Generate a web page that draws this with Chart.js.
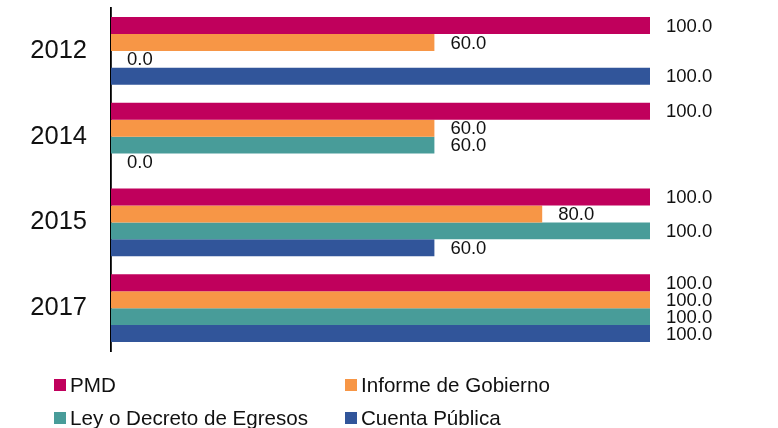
<!DOCTYPE html>
<html>
<head>
<meta charset="utf-8">
<script src="https://cdn.jsdelivr.net/npm/chart.js@4/dist/chart.umd.min.js"></script>
<style>
  html, body { margin: 0; padding: 0; background: #fff; }
  #wrap { position: relative; width: 778px; height: 428px; }
  #legend {
    position: absolute; left: 54px; top: 372px;
    display: grid; grid-template-columns: 291px 300px; row-gap: 8px;
    font-family: "Liberation Sans", Arial, sans-serif; font-size: 20.6px; color: #111;
  }
  #legend div { display: flex; align-items: center; height: 25px; }
  #legend span { display: inline-block; width: 12px; height: 12px; margin-right: 4px; }
</style>
</head>
<body>
<div id="wrap">
  <canvas id="c" width="778" height="428"></canvas>
  <div id="legend"></div>
</div>
<script>
const years = ['2012', '2014', '2015', '2017'];
const seriesNames = ['PMD', 'Informe de Gobierno', 'Ley o Decreto de Egresos', 'Cuenta Pública'];
const seriesColors = ['#C0005C', '#F79646', '#489C99', '#31559A'];
const pmd = [100, 100, 100, 100];
const informe = [60, 60, 80, 100];
const leyEgresos = [0, 60, 100, 100];
const cuentaPublica = [100, 0, 60, 100];

const seriesValues = [pmd, informe, leyEgresos, cuentaPublica];

const valueLabels = {
  id: 'valueLabels',
  afterDatasetsDraw(chart) {
    const ctx = chart.ctx;
    ctx.save();
    ctx.font = '18.5px "Liberation Sans", Arial, sans-serif';
    ctx.fillStyle = '#111';
    ctx.textAlign = 'left';
    ctx.textBaseline = 'middle';
    chart.data.datasets.forEach((ds, i) => {
      chart.getDatasetMeta(i).data.forEach((bar, j) => {
        ctx.fillText(ds.data[j].toFixed(1), bar.x + 16, bar.y + 1);
      });
    });
    ctx.restore();
  }
};

const chart = new Chart(document.getElementById('c'), {
  type: 'bar',
  data: {
    labels: years,
    datasets: seriesNames.map((name, i) => ({
      label: name,
      data: seriesValues[i],
      backgroundColor: seriesColors[i],
      borderWidth: 0,
      barPercentage: 1,
      categoryPercentage: 0.79
    }))
  },
  options: {
    indexAxis: 'y',
    responsive: false,
    animation: false,
    layout: { padding: { top: 8, right: 128, bottom: 77, left: 0 } },
    plugins: { legend: { display: false }, tooltip: { enabled: false } },
    scales: {
      x: { display: false, min: 0, max: 100 },
      y: {
        grid: { display: false },
        border: { display: true, color: '#000', width: 1.8 },
        ticks: {
          color: '#111',
          padding: 16,
          font: { family: '"Liberation Sans", Arial, sans-serif', size: 25.5 }
        },
        afterFit(scale) {
          scale.width = 111;
          scale.paddingTop = 0;
          scale.paddingBottom = 0;
        }
      }
    }
  },
  plugins: [valueLabels]
});

const legendEl = document.getElementById('legend');
chart.data.datasets.forEach(ds => {
  const item = document.createElement('div');
  const box = document.createElement('span');
  box.style.background = ds.backgroundColor;
  item.appendChild(box);
  item.appendChild(document.createTextNode(ds.label));
  legendEl.appendChild(item);
});
</script>
</body>
</html>
